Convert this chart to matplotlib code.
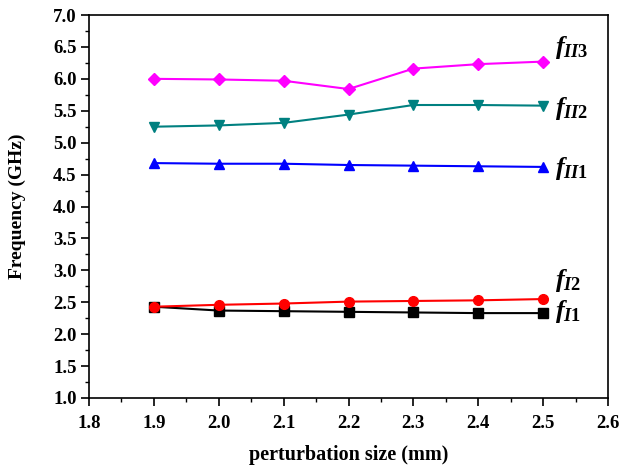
import numpy as np
import matplotlib
matplotlib.use('Agg')
from matplotlib import pyplot as plt
from matplotlib.ticker import MultipleLocator

plt.rc('font', family='Liberation Serif', weight='bold')
plt.rcParams['axes.labelweight'] = 'bold'
plt.rcParams['mathtext.fontset'] = 'custom'
plt.rcParams['mathtext.it'] = 'Liberation Serif:italic:bold'
plt.rcParams['mathtext.rm'] = 'Liberation Serif:bold'

size = [1.9, 2.0, 2.1, 2.2, 2.3, 2.4, 2.5]
f_I1 = [2.43, 2.37, 2.36, 2.35, 2.34, 2.33, 2.33]
f_I2 = [2.43, 2.46, 2.48, 2.51, 2.52, 2.53, 2.55]
f_II1 = [4.68, 4.67, 4.67, 4.65, 4.64, 4.63, 4.62]
f_II2 = [5.25, 5.27, 5.31, 5.44, 5.59, 5.59, 5.58]
f_II3 = [6.00, 5.99, 5.97, 5.84, 6.16, 6.23, 6.27]

series = [
    (f_I1, 'black', 's', r'$f_{I1}$', 2.35),
    (f_I2, '#ff0000', 'o', r'$f_{I2}$', 2.84),
    (f_II1, '#0000ff', '^', r'$f_{II1}$', 4.59),
    (f_II2, '#008080', 'v', r'$f_{II2}$', 5.54),
    (f_II3, '#ff00ff', 'D', r'$f_{II3}$', 6.49),
]

fig = plt.figure(figsize=(6.22, 4.67), dpi=100)
ax = fig.add_axes([89/622, 1 - 398/467, (608-89)/622, (398-15)/467])

for vals, c, m, lab, ly in series:
    ax.plot(size, vals, color=c, marker=m, markersize=7 if m != 'D' else 6,
            linewidth=1.5)
    ax.text(2.518, ly, lab, fontsize=19, va='center', ha='left')

ax.set_xlim(1.8, 2.6)
ax.set_ylim(1.0, 7.0)
ax.xaxis.set_major_locator(MultipleLocator(0.1))
ax.xaxis.set_minor_locator(MultipleLocator(0.05))
ax.yaxis.set_major_locator(MultipleLocator(0.5))
ax.yaxis.set_minor_locator(MultipleLocator(0.25))
ax.xaxis.set_major_formatter(plt.FormatStrFormatter('%.1f'))
ax.yaxis.set_major_formatter(plt.FormatStrFormatter('%.1f'))
ax.tick_params(which='both', direction='out', top=False, right=False, labelsize=13.5)
ax.tick_params(which='major', length=5.5, width=1.2)
ax.tick_params(which='minor', length=3, width=1.0)
ax.tick_params(axis='x', which='major', pad=7)
for sp in ax.spines.values():
    sp.set_linewidth(1.2)

ax.set_xlabel('perturbation size (mm)', fontsize=14.5, labelpad=9)
ax.set_ylabel('Frequency (GHz)', fontsize=14, labelpad=19)

plt.savefig('out.png', dpi=100)
